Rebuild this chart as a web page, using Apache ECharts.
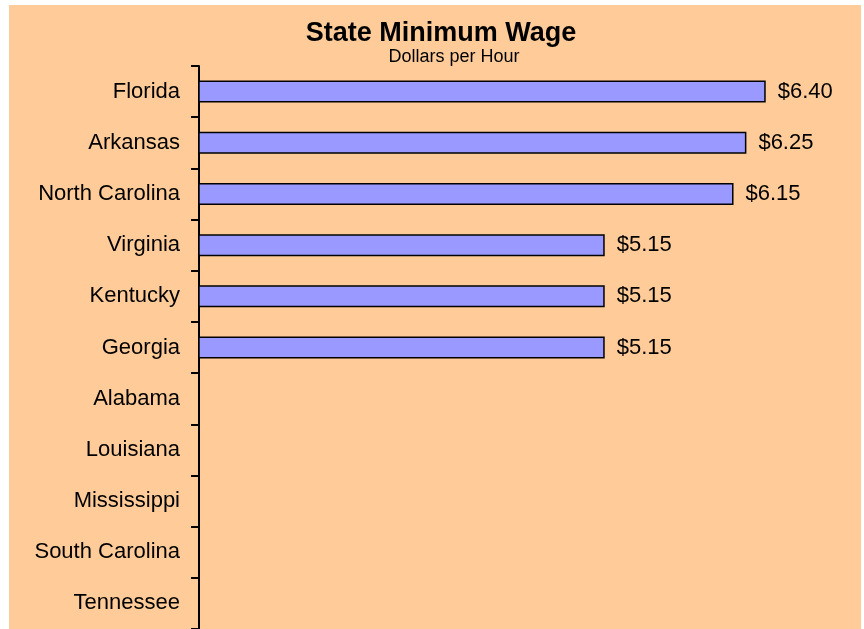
<!DOCTYPE html>
<html>
<head>
<meta charset="utf-8">
<script src="https://cdn.jsdelivr.net/npm/echarts@6/dist/echarts.min.js"></script>
<style>
  html, body { margin: 0; padding: 0; background: #ffffff; }
  #chart { position: absolute; left: 9px; top: 5px; width: 852px; height: 624px; }
</style>
</head>
<body>
<div id="chart"></div>
<script>
// states, top to bottom
const states = ["Florida", "Arkansas", "North Carolina", "Virginia", "Kentucky", "Georgia",
  "Alabama", "Louisiana", "Mississippi", "South Carolina", "Tennessee"];
// dollars per hour (no state minimum wage -> null)
const wages = [6.40, 6.25, 6.15, 5.15, 5.15, 5.15, null, null, null, null, null];

const font = 'Arial, "Liberation Sans", sans-serif';
const chart = echarts.init(document.getElementById("chart"));

chart.setOption({
  backgroundColor: "#FFCC99",
  animation: false,
  title: [
    {
      text: "State Minimum Wage",
      left: 427,
      top: 10,
      textAlign: "center",
      textStyle: { fontFamily: font, fontSize: 27, fontWeight: "bold", color: "#000" }
    },
    {
      text: "Dollars per Hour",
      left: 440,
      top: 38,
      textAlign: "center",
      textStyle: { fontFamily: font, fontSize: 18, fontWeight: "normal", color: "#000" }
    }
  ],
  grid: {
    left: 190,
    top: 61,
    right: 18,
    height: 568,
    containLabel: false
  },
  xAxis: {
    type: "value",
    min: 2,
    max: 7,
    show: false
  },
  yAxis: {
    type: "category",
    data: states,
    inverse: true,
    axisLine: { show: true, lineStyle: { color: "#000", width: 2 } },
    axisTick: { show: true, length: 8, lineStyle: { color: "#000", width: 2 } },
    axisLabel: { margin: 19, fontFamily: font, fontSize: 22, color: "#000", padding: [4, 0, 0, 0] },
    splitLine: { show: false }
  },
  series: [
    {
      name: "Minimum Wage",
      type: "bar",
      data: wages,
      barWidth: 22,
      itemStyle: { color: "#9999FF", borderColor: "#000", borderWidth: 1.5 },
      label: {
        show: true,
        position: "right",
        distance: 12,
        fontFamily: font,
        fontSize: 22,
        color: "#000",
        padding: [4, 0, 0, 0],
        formatter: p => "$" + p.value.toFixed(2)
      }
    }
  ]
});
</script>
</body>
</html>
